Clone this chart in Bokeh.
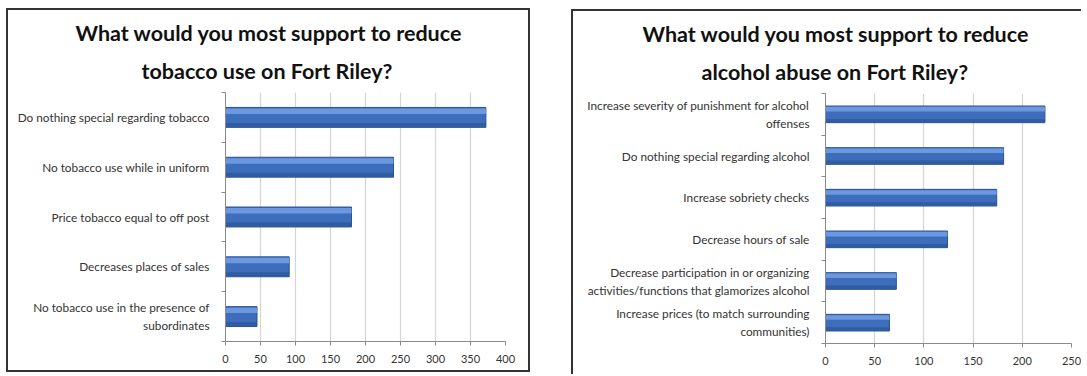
from bokeh.plotting import figure
from bokeh.models import Range1d, FixedTicker, ColumnDataSource, Title
from bokeh.transform import dodge
from bokeh.layouts import row
from bokeh.embed import file_html
from bokeh.resources import INLINE

# ---- data ----
tob_title = ["What would you most support to reduce", "tobacco use on Fort Riley?"]
tob_labels = [
    "Do nothing special regarding tobacco",
    "No tobacco use while in uniform",
    "Price tobacco equal to off post",
    "Decreases places of sales",
    "No tobacco use in the presence of\nsubordinates",
]
tob_values = [372, 240, 180, 91, 45]
tob_ticks = [0, 50, 100, 150, 200, 250, 300, 350, 400]

alc_title = ["What would you most support to reduce", "alcohol abuse on Fort Riley?"]
alc_labels = [
    "Increase severity of punishment for alcohol\noffenses",
    "Do nothing special regarding alcohol",
    "Increase sobriety checks",
    "Decrease hours of sale",
    "Decrease participation in or organizing\nactivities/functions that glamorizes alcohol",
    "Increase prices (to match surrounding\ncommunities)",
]
alc_values = [223, 181, 174, 124, 72, 65]
alc_ticks = [0, 50, 100, 150, 200, 250]

FONT = "Lato"


def make(title, labels, values, ticks, width, height, mb, title_offsets, css):
    n = len(labels)
    pos = [n - 1 - i + 0.5 for i in range(n)]
    src = ColumnDataSource(dict(y=pos, v=values))
    p = figure(width=width, height=height, x_range=Range1d(ticks[0], ticks[-1]),
               y_range=Range1d(0, n), output_backend="svg", toolbar_location=None,
               title=None,
               min_border_left=mb[0], min_border_right=mb[1],
               min_border_top=mb[2], min_border_bottom=mb[3])
    p.styles = css
    p.outline_line_color = None
    p.background_fill_color = "white"
    p.border_fill_color = "white"

    for txt, stand, off in ((title[1], 18, title_offsets[1]), (title[0], 1, title_offsets[0])):
        p.add_layout(Title(text=txt, align="left", offset=off,
                           text_font=FONT, text_font_style="bold",
                           text_font_size="21.5px", text_color="#111111",
                           text_line_height=0.75, standoff=stand), "above")

    p.hbar(y="y", right="v", left=0, height=0.4, source=src,
           fill_color="#3D6DBB", line_color="#2A5290", line_width=1)
    p.hbar(y=dodge("y", 0.125, range=p.y_range), right="v", left=0, height=0.11,
           source=src, fill_color="#6E9BE0", fill_alpha=0.95, line_color=None)
    p.hbar(y=dodge("y", -0.15, range=p.y_range), right="v", left=0, height=0.08,
           source=src, fill_color="#2E5AA0", fill_alpha=0.9, line_color=None)

    p.ygrid.grid_line_color = None
    p.xgrid.grid_line_color = "#D4D4D4"
    p.xgrid.grid_line_width = 1.2
    p.xaxis.ticker = FixedTicker(ticks=ticks)
    p.xaxis.axis_line_color = "#8A8A8A"
    p.xaxis.major_tick_line_color = "#8A8A8A"
    p.xaxis.major_tick_in = 0
    p.xaxis.major_tick_out = 4
    p.xaxis.minor_tick_line_color = None
    p.xaxis.major_label_text_font = FONT
    p.xaxis.major_label_text_font_size = "11px"
    p.xaxis.major_label_text_color = "#333333"
    p.xaxis.major_label_standoff = 9

    p.yaxis.ticker = FixedTicker(ticks=pos, minor_ticks=list(range(n + 1)))
    p.yaxis.major_label_overrides = {pos[i]: labels[i] for i in range(n)}
    p.yaxis.axis_line_color = "#8A8A8A"
    p.yaxis.major_tick_line_color = None
    p.yaxis.minor_tick_line_color = "#8A8A8A"
    p.yaxis.minor_tick_in = 0
    p.yaxis.minor_tick_out = 4
    p.yaxis.major_label_text_font = FONT
    p.yaxis.major_label_text_font_size = "11.8px"
    p.yaxis.major_label_text_color = "#333333"
    p.yaxis.major_label_text_align = "center"
    p.yaxis.major_label_standoff = 10
    return p


left = make(tob_title, tob_labels, tob_values, tob_ticks, 524, 364,
            (217, 27, 82, 33), (-150, -84),
            {"border": "2px solid #333333", "margin-left": "6px", "margin-top": "8px"})
right = make(alc_title, alc_labels, alc_values, alc_ticks, 510, 365,
             (252, 12, 82, 33), (-183, -124),
             {"border-left": "2px solid #333333", "border-top": "2px solid #333333",
              "margin-top": "9px"})

layout = row(left, right, spacing=41)
open("out.html", "w").write(file_html(layout, INLINE))
